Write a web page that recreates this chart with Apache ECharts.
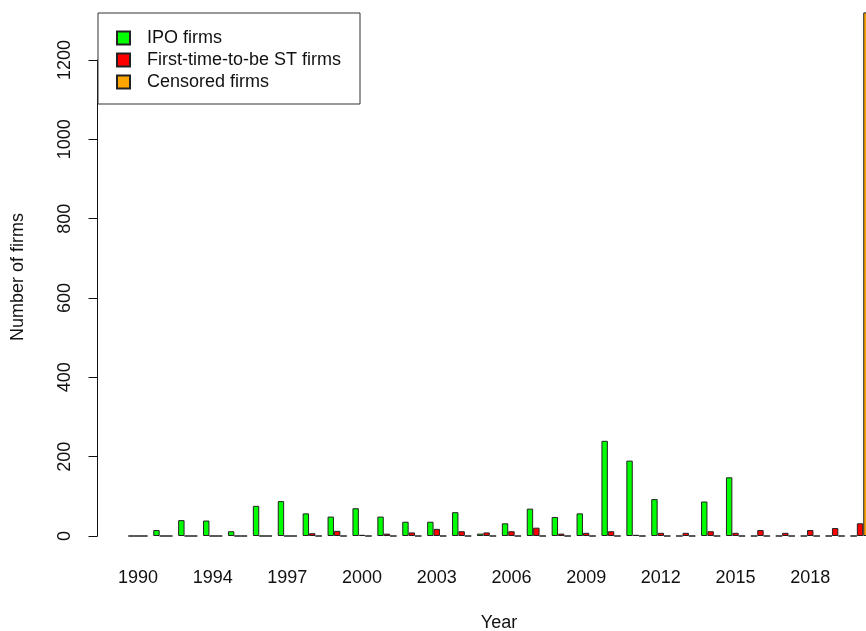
<!DOCTYPE html>
<html>
<head>
<meta charset="utf-8">
<script src="https://cdn.jsdelivr.net/npm/echarts@6/dist/echarts.min.js"></script>
<style>
  html, body { margin: 0; padding: 0; background: #fff; }
  #chart { width: 866px; height: 631px; }
</style>
</head>
<body>
<div id="chart"></div>
<script>
// 年份
const years = ['1990', '1992', '1993', '1994', '1995', '1996', '1997', '1998', '1999', '2000',
  '2001', '2002', '2003', '2004', '2005', '2006', '2007', '2008', '2009', '2010',
  '2011', '2012', '2013', '2014', '2015', '2016', '2017', '2018', '2019', '2020'];
// IPO firms
const ipoFirms = [0, 15, 40, 39, 12, 76, 88, 57, 49, 70,
  49, 36, 36, 60, 6, 32, 69, 48, 57, 240,
  190, 93, 0, 87, 148, 0, 0, 0, 0, 0];
// First-time-to-be ST firms
const stFirms = [0, 0, 0, 0, 0, 0, 0, 7, 13, 3,
  6, 9, 18, 12, 9, 12, 21, 6, 8, 12,
  3, 8, 8, 12, 8, 15, 8, 15, 20, 32];
// Censored firms
const censoredFirms = [0, 0, 0, 0, 0, 0, 0, 0, 0, 0,
  0, 0, 0, 0, 0, 0, 0, 0, 0, 0,
  0, 0, 0, 0, 0, 0, 0, 0, 0, 1320];
const yTicks = [0, 200, 400, 600, 800, 1000, 1200];

const font = 'Liberation Sans, Arial, sans-serif';
const textColor = '#111';

let myChart = echarts.init(document.getElementById('chart'));

function barSeries(name, data, color) {
  return {
    name: name,
    type: 'bar',
    data: data,
    barWidth: 6.4,
    barGap: '0%',
    clip: false,
    itemStyle: {
      color: color,
      borderColor: '#222',
      borderWidth: 1
    }
  };
}

let option = {
  animation: false,
  backgroundColor: '#fff',
  grid: {
    left: 125.5,
    right: -6.5,
    top: 60,
    bottom: 95,
    outerBoundsMode: 'none'
  },
  legend: {
    orient: 'vertical',
    left: 98,
    top: 13,
    padding: [14, 19, 11, 18],
    itemWidth: 13,
    itemHeight: 13,
    itemGap: 0,
    icon: 'rect',
    borderColor: '#333',
    borderWidth: 1,
    backgroundColor: '#fff',
    textStyle: {
      fontFamily: font,
      fontSize: 18,
      lineHeight: 22,
      color: textColor,
      padding: [0, 0, 0, 12]
    },
    data: ['IPO firms', 'First-time-to-be ST firms', 'Censored firms']
  },
  xAxis: {
    type: 'category',
    data: years,
    name: 'Year',
    nameLocation: 'middle',
    nameGap: 78,
    nameTextStyle: { fontFamily: font, fontSize: 18, color: textColor },
    axisLine: { show: false },
    axisTick: { show: false },
    axisLabel: {
      interval: 2,
      margin: 33,
      fontFamily: font,
      fontSize: 18,
      color: textColor
    }
  },
  yAxis: {
    type: 'value',
    min: yTicks[0],
    max: yTicks[yTicks.length - 1],
    interval: 200,
    offset: 28,
    name: 'Number of firms',
    nameLocation: 'middle',
    nameGap: 70,
    nameTextStyle: {
      fontFamily: font,
      fontSize: 18,
      color: textColor,
      padding: [0, 0, 0, 42]
    },
    splitLine: { show: false },
    axisLine: { show: true, lineStyle: { color: '#111', width: 1 } },
    axisTick: { show: true, length: 9, lineStyle: { color: '#111' } },
    axisLabel: {
      rotate: 90,
      margin: 23,
      fontFamily: font,
      fontSize: 18,
      color: textColor,
      formatter: function (value) {
        return String(value);
      }
    }
  },
  series: [
    barSeries('IPO firms', ipoFirms, '#00ff00'),
    barSeries('First-time-to-be ST firms', stFirms, '#ff0000'),
    barSeries('Censored firms', censoredFirms, '#ffa500')
  ]
};
myChart.setOption(option);
</script>
</body>
</html>
